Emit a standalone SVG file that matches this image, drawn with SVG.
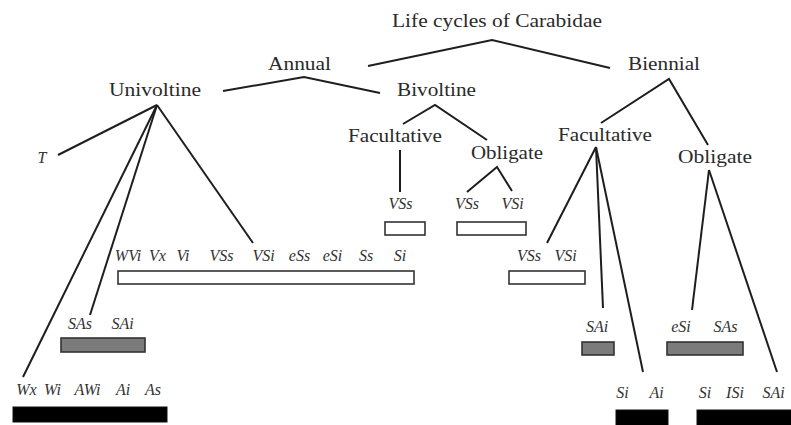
<svg xmlns="http://www.w3.org/2000/svg" width="791" height="425" viewBox="0 0 791 425">
<style>
.t{font-family:"Liberation Serif","Times New Roman",serif;font-size:19px;fill:#2a2a2a}
.l{font-family:"Liberation Serif","Times New Roman",serif;font-size:16px;font-style:italic;fill:#333;text-anchor:middle}
.c{fill:none;stroke:#1e1e1e;stroke-width:2;stroke-linejoin:miter}
.w{fill:#fff;stroke:#333;stroke-width:1.6}
.g{fill:#7b7b7b;stroke:#333;stroke-width:1.6}
.b{fill:#000;stroke:#111;stroke-width:1}
</style>
<rect width="791" height="425" fill="#fff"/>
<g id="connectors">
<polyline class="c" points="368,66 492,40 610,68"/>
<polyline class="c" points="223,91 304,77 380,93"/>
<line class="c" x1="157" y1="105" x2="58" y2="155"/>
<line class="c" x1="157" y1="105" x2="23" y2="377"/>
<line class="c" x1="157" y1="105" x2="90" y2="315"/>
<line class="c" x1="157" y1="105" x2="253" y2="243"/>
<polyline class="c" points="403,124 435,105 487,140"/>
<line class="c" x1="400" y1="150" x2="400" y2="192"/>
<polyline class="c" points="467,192 497,167 512,191"/>
<polyline class="c" points="601,123 669,79 708,145"/>
<line class="c" x1="596" y1="147" x2="547" y2="243"/>
<line class="c" x1="596" y1="147" x2="603" y2="308"/>
<line class="c" x1="596" y1="147" x2="643" y2="372"/>
<line class="c" x1="709" y1="170" x2="692" y2="310"/>
<line class="c" x1="709" y1="170" x2="777" y2="372"/>
</g>
<g id="root"><text class="t" x="392" y="27" textLength="210" lengthAdjust="spacingAndGlyphs">Life cycles of Carabidae</text></g>
<g id="annual"><text class="t" x="268" y="70" textLength="63" lengthAdjust="spacingAndGlyphs">Annual</text></g>
<g id="biennial"><text class="t" x="628" y="70" textLength="72" lengthAdjust="spacingAndGlyphs">Biennial</text></g>
<g id="univoltine"><text class="t" x="109" y="96" textLength="92" lengthAdjust="spacingAndGlyphs">Univoltine</text></g>
<g id="bivoltine"><text class="t" x="397" y="96" textLength="79" lengthAdjust="spacingAndGlyphs">Bivoltine</text></g>
<g id="biv-facultative"><text class="t" x="348" y="142" textLength="94" lengthAdjust="spacingAndGlyphs">Facultative</text></g>
<g id="biv-obligate"><text class="t" x="471" y="159" textLength="72" lengthAdjust="spacingAndGlyphs">Obligate</text></g>
<g id="bien-facultative"><text class="t" x="558" y="141" textLength="94" lengthAdjust="spacingAndGlyphs">Facultative</text></g>
<g id="bien-obligate"><text class="t" x="678" y="163" textLength="74" lengthAdjust="spacingAndGlyphs">Obligate</text></g>
<g id="T"><text class="l" x="42" y="163">T</text></g>
<g id="biv-fac-bar">
<text class="l" x="400.5" y="209">VSs</text>
<rect class="w" x="385" y="222" width="40" height="13"/>
</g>
<g id="biv-obl-bar">
<text class="l" x="467" y="209">VSs</text>
<text class="l" x="512.5" y="209">VSi</text>
<rect class="w" x="457" y="222" width="69" height="13"/>
</g>
<g id="uni-white-bar">
<text class="l" x="128" y="261">WVi</text>
<text class="l" x="157.5" y="261">Vx</text>
<text class="l" x="183" y="261">Vi</text>
<text class="l" x="221.5" y="261">VSs</text>
<text class="l" x="263.5" y="261">VSi</text>
<text class="l" x="299.5" y="261">eSs</text>
<text class="l" x="332.5" y="261">eSi</text>
<text class="l" x="366" y="261">Ss</text>
<text class="l" x="400" y="261">Si</text>
<rect class="w" x="118" y="271" width="296" height="13"/>
</g>
<g id="bien-fac-white-bar">
<text class="l" x="529" y="261">VSs</text>
<text class="l" x="565.5" y="261">VSi</text>
<rect class="w" x="509" y="271" width="76" height="13"/>
</g>
<g id="uni-grey-bar">
<text class="l" x="80" y="329">SAs</text>
<text class="l" x="122.5" y="329">SAi</text>
<rect class="g" x="61" y="338" width="84" height="14"/>
</g>
<g id="bien-fac-grey-bar">
<text class="l" x="597" y="332">SAi</text>
<rect class="g" x="582" y="342" width="32" height="13"/>
</g>
<g id="bien-obl-grey-bar">
<text class="l" x="681" y="332">eSi</text>
<text class="l" x="725.5" y="332">SAs</text>
<rect class="g" x="667" y="342" width="76" height="13"/>
</g>
<g id="uni-black-bar">
<text class="l" x="26.5" y="395">Wx</text>
<text class="l" x="52.5" y="395">Wi</text>
<text class="l" x="87.5" y="395">AWi</text>
<text class="l" x="123" y="395">Ai</text>
<text class="l" x="153" y="395">As</text>
<rect class="b" x="13" y="407" width="154" height="15"/>
</g>
<g id="bien-fac-black-bar">
<text class="l" x="622.5" y="398">Si</text>
<text class="l" x="656.5" y="398">Ai</text>
<rect class="b" x="616" y="410" width="52" height="16"/>
</g>
<g id="bien-obl-black-bar">
<text class="l" x="705" y="398">Si</text>
<text class="l" x="735" y="398">ISi</text>
<text class="l" x="773.5" y="398">SAi</text>
<rect class="b" x="697" y="410" width="96" height="16"/>
</g>
</svg>
